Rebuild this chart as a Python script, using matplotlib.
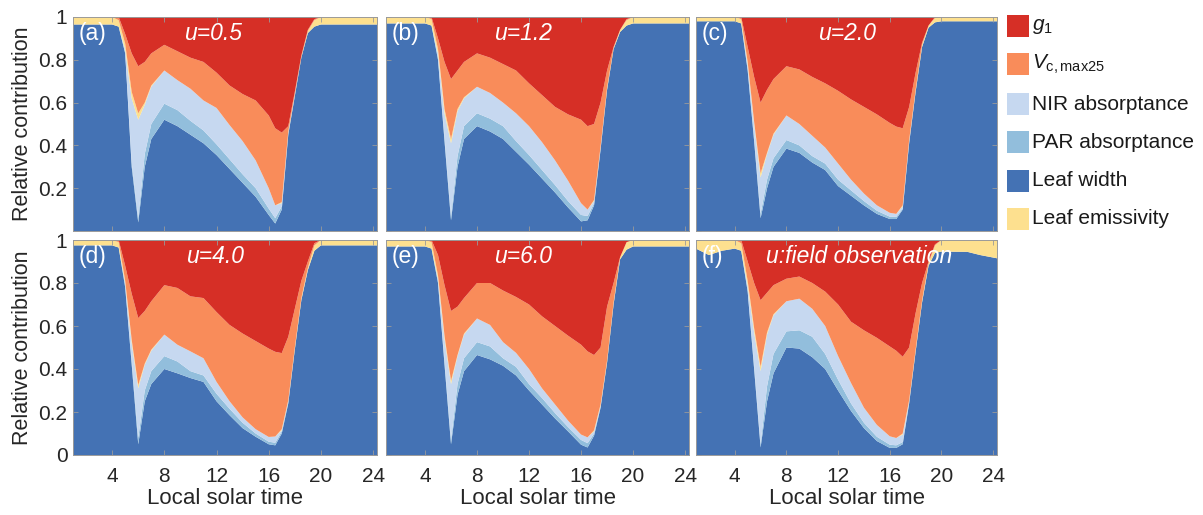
import numpy as np
import matplotlib
matplotlib.use("Agg")
import matplotlib.pyplot as plt
from matplotlib.patches import Rectangle

plt.rcParams['font.family'] = ['Liberation Sans', 'DejaVu Sans']
plt.rcParams['mathtext.fontset'] = 'custom'
plt.rcParams['mathtext.rm'] = 'Liberation Sans'
plt.rcParams['mathtext.it'] = 'Liberation Sans:italic'
plt.rcParams['mathtext.bf'] = 'Liberation Sans:bold'

# ---------------- data ----------------
hours = [1, 2, 3, 4, 4.5, 5, 5.5, 6, 6.5, 7, 8, 9, 10, 11, 12, 13, 14, 15, 16,
         16.5, 17, 17.5, 18, 18.5, 19, 19.5, 20, 22, 23, 24.3]

series_names = ["Leaf width", "PAR absorptance", "NIR absorptance",
                "Leaf emissivity", "$V_{\\mathrm{c,max25}}$", "$g_1$"]
colors = ["#4472B4", "#92BEDC", "#C6D8F0", "#FDE08F", "#F98C5A", "#D62F26"]

# panel (a) u=0.5
a_width = [.965, .965, .965, .965, .955, .83, .30, .04, .30, .43, .52, .49, .45, .41, .355, .29, .225, .16, .075, .035, .10, .45, .63, .81, .925, .955, .965, .965, .965, .965]
a_par   = [0, 0, 0, 0, 0, .005, .02, .02, .06, .07, .075, .075, .065, .06, .05, .045, .04, .04, .03, .025, .015, .005, .002, 0, 0, 0, 0, 0, 0, 0]
a_nir   = [0, 0, 0, 0, 0, .015, .30, .46, .23, .175, .155, .14, .15, .14, .17, .16, .155, .13, .095, .06, .015, .005, .003, 0, 0, 0, 0, 0, 0, 0]
a_emis  = [.035, .035, .035, .035, .03, .025, .03, .03, .01, .005, 0, 0, 0, 0, 0, 0, 0, 0, 0, 0, .005, .005, .005, .005, .01, .03, .035, .035, .035, .035]
a_vcmax = [0, 0, 0, 0, .015, .045, .18, .22, .19, .15, .12, .135, .145, .18, .165, .185, .22, .28, .34, .36, .325, .025, .01, .005, .005, .005, 0, 0, 0, 0]
a_g1    = [0, 0, 0, 0, 0, .08, .17, .23, .21, .17, .13, .16, .19, .21, .26, .32, .36, .39, .46, .52, .54, .51, .35, .18, .06, .01, 0, 0, 0, 0]

# panel (b) u=1.2
b_width = [.97, .97, .97, .97, .96, .80, .42, .05, .30, .43, .49, .465, .43, .37, .31, .245, .18, .11, .045, .05, .12, .38, .66, .85, .93, .96, .97, .97, .97, .97]
b_par   = [0, 0, 0, 0, 0, .01, .02, .02, .05, .06, .06, .06, .06, .05, .045, .04, .035, .03, .03, .02, .01, .005, 0, 0, 0, 0, 0, 0, 0, 0]
b_nir   = [0, 0, 0, 0, 0, .02, .11, .34, .21, .13, .124, .12, .11, .13, .135, .13, .115, .095, .055, .03, .01, .005, 0, 0, 0, 0, 0, 0, 0, 0]
b_emis  = [.03, .03, .03, .03, .03, .02, .02, .02, .01, .005, 0, 0, 0, 0, 0, 0, 0, 0, 0, 0, .005, .005, .01, .005, .01, .025, .03, .03, .03, .03]
b_vcmax = [0, 0, 0, 0, .01, .05, .22, .28, .18, .165, .156, .165, .18, .20, .20, .22, .25, .31, .39, .39, .355, .205, .08, .005, 0, .005, 0, 0, 0, 0]
b_g1    = [0, 0, 0, 0, 0, .10, .21, .29, .25, .21, .17, .19, .22, .25, .31, .365, .42, .455, .48, .51, .50, .40, .25, .14, .06, .01, 0, 0, 0, 0]

# panel (c) u=2.0
c_width = [.98, .98, .98, .98, .97, .75, .42, .06, .20, .30, .385, .365, .32, .285, .21, .165, .12, .08, .056, .056, .10, .41, .65, .86, .95, .975, .98, .98, .98, .98]
c_par   = [0, 0, 0, 0, 0, .01, .02, .02, .04, .04, .04, .035, .03, .03, .03, .025, .02, .015, .011, .01, .005, .005, 0, 0, 0, 0, 0, 0, 0, 0]
c_nir   = [0, 0, 0, 0, 0, .02, .06, .17, .12, .11, .115, .10, .095, .075, .075, .05, .035, .025, .018, .014, .01, .005, 0, 0, 0, 0, 0, 0, 0, 0]
c_emis  = [.02, .02, .02, .02, .02, .01, .01, .02, .005, .005, 0, 0, 0, 0, 0, 0, 0, 0, 0, 0, .005, .005, .01, .01, .01, .02, .02, .02, .02, .02]
c_vcmax = [0, 0, 0, 0, .01, .07, .21, .33, .295, .255, .23, .255, .275, .30, .34, .375, .405, .425, .42, .408, .36, .155, .08, .01, 0, .005, 0, 0, 0, 0]
c_g1    = [0, 0, 0, 0, 0, .14, .28, .40, .34, .29, .23, .245, .28, .31, .345, .385, .42, .455, .495, .512, .52, .42, .26, .12, .04, 0, 0, 0, 0, 0]

# panel (d) u=4.0
d_width = [.975, .975, .975, .975, .965, .78, .42, .05, .25, .33, .40, .38, .358, .34, .25, .185, .125, .085, .05, .045, .10, .24, .49, .72, .86, .95, .975, .975, .975, .975]
d_par   = [0, 0, 0, 0, 0, .01, .02, .03, .05, .06, .06, .055, .032, .03, .035, .03, .025, .015, .012, .012, .01, .005, 0, 0, 0, 0, 0, 0, 0, 0]
d_nir   = [0, 0, 0, 0, 0, .01, .08, .23, .12, .095, .10, .078, .092, .08, .055, .035, .025, .02, .022, .029, .005, .005, 0, 0, 0, 0, 0, 0, 0, 0]
d_emis  = [.025, .025, .025, .025, .025, .01, .015, .015, .005, .005, 0, 0, 0, 0, 0, 0, 0, 0, 0, 0, .005, .005, .01, .01, .01, .025, .025, .025, .025, .025]
d_vcmax = [0, 0, 0, 0, .01, .07, .215, .312, .245, .225, .23, .264, .256, .28, .325, .355, .39, .41, .411, .394, .354, .295, .18, .08, .03, .01, 0, 0, 0, 0]
d_g1    = [0, 0, 0, 0, 0, .12, .25, .363, .33, .285, .21, .223, .262, .27, .335, .395, .435, .47, .505, .52, .526, .45, .32, .19, .10, .015, 0, 0, 0, 0]

# panel (e) u=6.0
e_width = [.97, .97, .97, .97, .96, .80, .42, .05, .28, .39, .465, .445, .415, .37, .30, .235, .17, .11, .048, .035, .09, .22, .43, .70, .91, .955, .97, .97, .97, .97]
e_par   = [0, 0, 0, 0, 0, .01, .02, .02, .05, .06, .06, .06, .035, .04, .03, .03, .025, .02, .022, .02, .01, .005, 0, 0, 0, 0, 0, 0, 0, 0]
e_nir   = [0, 0, 0, 0, 0, .01, .10, .26, .13, .11, .11, .10, .075, .065, .07, .045, .04, .03, .025, .027, .01, .005, 0, 0, 0, 0, 0, 0, 0, 0]
e_emis  = [.03, .03, .03, .03, .03, .015, .015, .015, .005, .005, 0, 0, 0, 0, 0, 0, 0, 0, 0, 0, .005, .005, .01, .01, .01, .035, .03, .03, .03, .03]
e_vcmax = [0, 0, 0, 0, .01, .095, .235, .325, .225, .165, .165, .195, .24, .26, .30, .335, .365, .395, .418, .40, .35, .265, .25, .09, 0, 0, 0, 0, 0, 0]
e_g1    = [0, 0, 0, 0, 0, .07, .21, .33, .31, .27, .20, .20, .235, .265, .30, .355, .40, .445, .487, .518, .535, .50, .31, .20, .08, .01, 0, 0, 0, 0]

# panel (f) field observation
f_width = [.96, .93, .95, .96, .95, .76, .40, .035, .25, .38, .50, .495, .455, .40, .30, .205, .125, .065, .033, .033, .05, .24, .48, .71, .88, .94, .946, .945, .93, .915]
f_par   = [0, 0, 0, 0, 0, .01, .02, .015, .07, .09, .075, .085, .095, .07, .05, .035, .025, .02, .015, .012, .01, .005, 0, 0, 0, 0, 0, 0, 0, 0]
f_nir   = [0, 0, 0, 0, 0, .02, .15, .34, .24, .18, .14, .147, .13, .13, .11, .095, .07, .055, .039, .034, .035, .005, 0, 0, 0, 0, 0, 0, 0, 0]
f_emis  = [.04, .07, .05, .04, .035, .02, .02, .02, .01, .005, 0, 0, 0, 0, 0, 0, 0, 0, 0, 0, .005, .005, .01, .01, .01, .035, .054, .055, .07, .085]
f_vcmax = [0, 0, 0, 0, .015, .09, .21, .31, .185, .135, .105, .103, .12, .16, .24, .285, .36, .405, .418, .406, .357, .245, .17, .08, .01, .005, 0, 0, 0, 0]
f_g1    = [0, 0, 0, 0, 0, .10, .20, .28, .245, .21, .18, .17, .20, .24, .30, .38, .42, .455, .495, .515, .543, .50, .34, .20, .10, .02, 0, 0, 0, 0]

panel_letters = ["(a)", "(b)", "(c)", "(d)", "(e)", "(f)"]
panel_titles = ["u=0.5", "u=1.2", "u=2.0", "u=4.0", "u=6.0", "u:field observation"]
panel_title_x = [11.7, 11.5, 12.7, 11.9, 11.5, 13.6]
panels = [
    [a_width, a_par, a_nir, a_emis, a_vcmax, a_g1],
    [b_width, b_par, b_nir, b_emis, b_vcmax, b_g1],
    [c_width, c_par, c_nir, c_emis, c_vcmax, c_g1],
    [d_width, d_par, d_nir, d_emis, d_vcmax, d_g1],
    [e_width, e_par, e_nir, e_emis, e_vcmax, e_g1],
    [f_width, f_par, f_nir, f_emis, f_vcmax, f_g1],
]
xticks = [4, 8, 12, 16, 20, 24]
yticks = [0, 0.2, 0.4, 0.6, 0.8, 1]

# ---------------- figure ----------------
W, H = 1203, 515
fig = plt.figure(figsize=(W / 100, H / 100), dpi=100)

col_px = [(73, 377), (386, 689), (696, 997)]
row_px = [(17, 231), (240, 455)]

spine_col = "#9A9A9A"
for i, comps in enumerate(panels):
    r, c = divmod(i, 3)
    x0, x1 = col_px[c]
    y0, y1 = row_px[r]
    ax = fig.add_axes([x0 / W, 1 - y1 / H, (x1 - x0) / W, (y1 - y0) / H])
    ax.stackplot(hours, *comps, colors=colors, linewidth=0)
    ax.set_xlim(1, 24.3)
    ax.set_ylim(0, 1)
    ax.set_xticks(xticks)
    ax.set_yticks(yticks)
    ax.tick_params(direction="in", top=True, right=True, length=3.5, width=0.6,
                   color=spine_col, labelsize=15, labelcolor="#262626")
    ax.tick_params(axis="x", pad=9)
    ax.tick_params(axis="y", pad=4)
    for s in ax.spines.values():
        s.set_color(spine_col)
        s.set_linewidth(0.7)
    if c == 0:
        if r == 0:
            ax.set_yticklabels(["", "0.2", "0.4", "0.6", "0.8", "1"])
        else:
            ax.set_yticklabels(["0", "0.2", "0.4", "0.6", "0.8", "1"])
        ax.set_ylabel("Relative contribution", fontsize=15.5, color="#262626", labelpad=4)
    else:
        ax.set_yticklabels([])
    if r == 1:
        ax.set_xticklabels([str(t) for t in xticks])
        ax.set_xlabel("Local solar time", fontsize=16, color="#262626", labelpad=1)
    else:
        ax.set_xticklabels([])
    ax.text(1.4, 0.925, panel_letters[i], color="white", fontsize=16.5,
            ha="left", va="center")
    ax.text(panel_title_x[i], 0.925, panel_titles[i], color="white", fontsize=16.5,
            ha="center", va="center", style="italic")

# ---------------- legend ----------------
lax = fig.add_axes([0, 0, 1, 1])
lax.set_xlim(0, W)
lax.set_ylim(H, 0)
lax.axis("off")
legend_order = [5, 4, 2, 1, 0, 3]
legend_y = [26, 64, 104, 142, 181, 219]
for yc, k in zip(legend_y, legend_order):
    lax.add_patch(Rectangle((1007, yc - 11), 21.5, 22, facecolor=colors[k], edgecolor="none"))
    lax.text(1032, yc, series_names[k], fontsize=15, color="#1a1a1a", ha="left", va="center")

fig.savefig("out.png", dpi=100, facecolor="white")
